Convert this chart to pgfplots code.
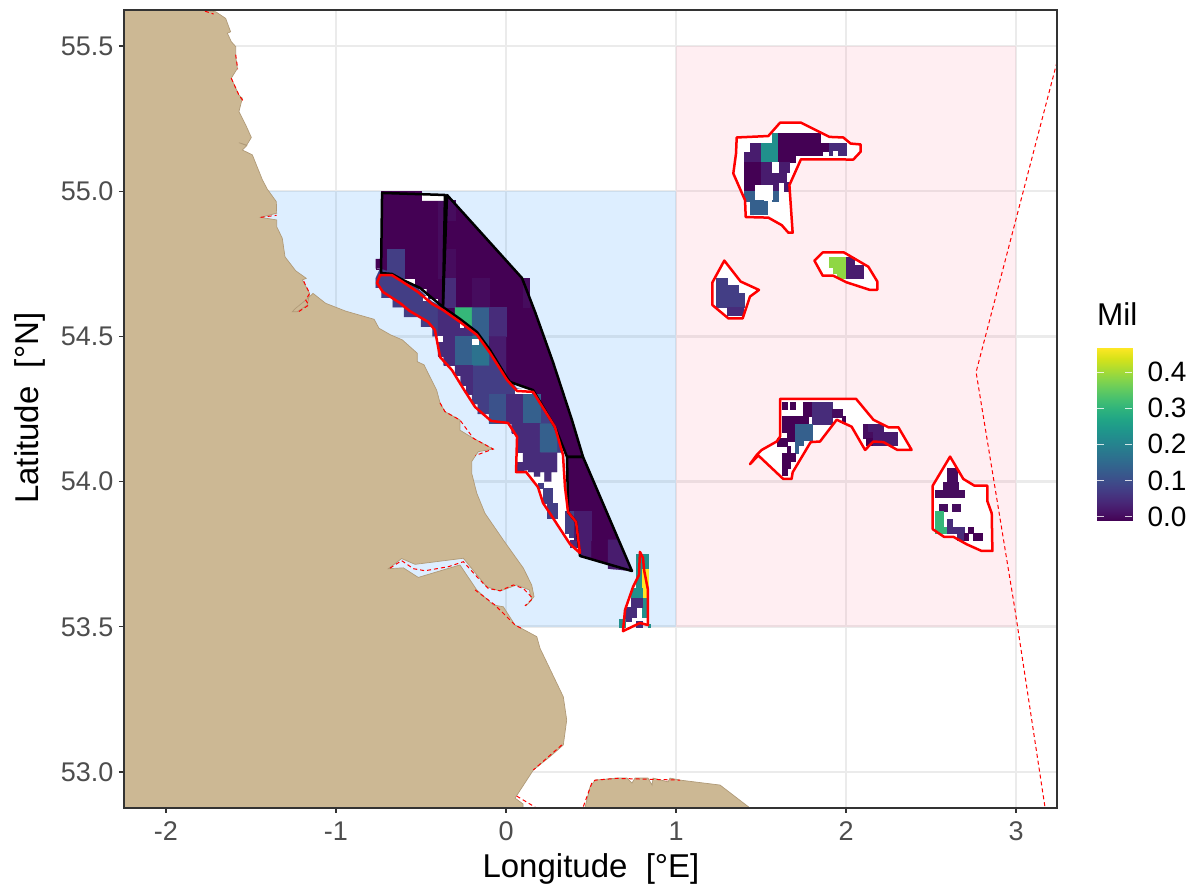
\documentclass[border=0pt]{standalone}
\usepackage{pgfplots}
\usepackage{fontspec}
\setmainfont{Liberation Sans}
\pgfplotsset{compat=1.18}
\definecolor{land}{HTML}{CCB894}
\definecolor{landb}{HTML}{B09A78}
\definecolor{bluer}{HTML}{1E90FF}
\definecolor{pinkr}{HTML}{FF5A82}
\definecolor{gridc}{HTML}{EBEBEB}
\definecolor{frame}{HTML}{333333}
\definecolor{tickl}{HTML}{4D4D4D}
\definecolor{dA}{HTML}{440154}
\definecolor{dB}{HTML}{460C5E}
\definecolor{dC}{HTML}{481C6E}
\definecolor{dD}{HTML}{472C7A}
\definecolor{dE}{HTML}{433E85}
\definecolor{dF}{HTML}{3B528B}
\definecolor{dG}{HTML}{35608D}
\definecolor{dH}{HTML}{2C728E}
\definecolor{teal}{HTML}{21908C}
\definecolor{green}{HTML}{35B779}
\definecolor{lime}{HTML}{8FD744}
\definecolor{yel}{HTML}{FDE725}
\newcommand{\Poly}[2]{\addplot[fill=#1,draw=#1,line width=0.15pt,forget plot] coordinates {#2} --cycle;}
\newcommand{\Cell}[5]{\addplot[fill=#1,draw=#1,line width=0.15pt,forget plot] coordinates {(#2,#4)(#3,#4)(#3,#5)(#2,#5)} --cycle;}
\newcommand{\Outl}[2]{\addplot[draw=#1,line width=2.5pt,line join=round,forget plot] coordinates {#2} --cycle;}
\newcommand{\Wht}[1]{\addplot[fill=white,draw=none,forget plot] coordinates {#1} --cycle;}
\newcommand{\Dash}[1]{\addplot[draw=red,line width=1pt,dash pattern=on 4pt off 3pt,forget plot] coordinates {#1};}
\def\redA{(-0.741,54.711)(-0.671,54.711)(-0.606,54.687)(-0.518,54.653)(-0.435,54.612)(-0.371,54.591)(-0.271,54.55)(-0.171,54.505)(-0.094,54.443)(0.006,54.35)(0.065,54.312)(0.159,54.309)(0.288,54.188)(0.335,54.092)(0.347,53.981)(0.365,53.895)(0.412,53.861)(0.435,53.754)(0.376,53.785)(0.276,53.875)(0.218,53.926)(0.188,53.981)(0.118,54.033)(0.059,54.033)(0.065,54.154)(0.012,54.202)(-0.088,54.209)(-0.182,54.257)(-0.253,54.322)(-0.318,54.384)(-0.388,54.429)(-0.418,54.522)(-0.459,54.55)(-0.565,54.587)(-0.624,54.615)(-0.724,54.653)(-0.759,54.684)}
\def\redB{(0.788,53.758)(0.806,53.737)(0.812,53.696)(0.835,53.627)(0.835,53.506)(0.788,53.513)(0.688,53.485)(0.7,53.558)(0.747,53.637)(0.782,53.678)}
\def\redN{(1.357,55.185)(1.543,55.19)(1.612,55.236)(1.735,55.236)(1.902,55.187)(1.984,55.185)(2.027,55.164)(2.086,55.161)(2.086,55.136)(2.043,55.109)(1.735,55.11)(1.667,55.021)(1.686,54.857)(1.661,54.857)(1.622,54.883)(1.543,54.909)(1.41,54.911)(1.406,54.969)(1.337,55.061)(1.353,55.13)}
\def\redM{(1.814,54.761)(1.863,54.789)(1.988,54.789)(2.131,54.74)(2.184,54.689)(2.184,54.66)(2.141,54.66)(2.004,54.686)(1.925,54.709)(1.863,54.709)}
\def\redW{(1.284,54.761)(1.38,54.689)(1.488,54.66)(1.435,54.637)(1.392,54.562)(1.308,54.562)(1.214,54.608)(1.214,54.686)}
\def\redS{(1.612,54.285)(2.059,54.285)(2.161,54.213)(2.249,54.187)(2.308,54.187)(2.386,54.109)(2.302,54.109)(2.22,54.136)(2.161,54.138)(2.112,54.109)(2.033,54.189)(1.945,54.213)(1.847,54.138)(1.792,54.136)(1.686,54.032)(1.68,54.009)(1.631,54.009)(1.484,54.09)(1.435,54.06)(1.475,54.092)(1.504,54.109)(1.592,54.138)(1.612,54.155)}
\def\redE{(2.612,54.086)(2.69,54.009)(2.755,53.986)(2.831,53.986)(2.831,53.933)(2.857,53.891)(2.861,53.761)(2.798,53.761)(2.71,53.784)(2.631,53.81)(2.576,53.81)(2.51,53.836)(2.51,53.986)}
\def\blkA{(-0.729,54.994)(-0.359,54.987)(-0.371,54.601)(-0.506,54.667)(-0.606,54.694)(-0.671,54.715)(-0.735,54.718)}
\def\blkB{(-0.347,54.987)(0.094,54.701)(0.171,54.584)(0.276,54.412)(0.388,54.212)(0.453,54.085)(0.359,54.085)(0.288,54.188)(0.159,54.315)(0.024,54.343)(0.006,54.357)(-0.094,54.453)(-0.171,54.515)(-0.271,54.56)(-0.371,54.601)}
\def\blkC{(0.359,54.085)(0.453,54.085)(0.741,53.692)(0.435,53.744)(0.412,53.861)(0.365,53.895)}
\begin{document}
\begin{tikzpicture}[x=1pt,y=1pt]
\useasboundingbox (-124pt,-85pt) rectangle (1072pt,808pt);
\begin{axis}[
  at={(0pt,0pt)},anchor=south west,
  scale only axis,width=933pt,height=798pt,
  xmin=-2.247,xmax=3.241,ymin=52.876,ymax=55.624,
  xtick={-2,-1,0,1,2,3},ytick={53,53.5,54,54.5,55,55.5},
  xticklabels={-2,-1,0,1,2,3},
  yticklabels={53.0,53.5,54.0,54.5,55.0,55.5},
  tick align=outside,xtick pos=bottom,ytick pos=left,
  major tick length=5pt,
  tick style={draw=frame,line width=1.2pt},
  axis line style={draw=frame,line width=1.2pt},
  grid=major,
  major grid style={draw=gridc,line width=2.6pt},
  tick label style={font=\fontsize{27}{30}\selectfont,text=tickl},
  x tick label style={yshift=-5pt},
  y tick label style={xshift=-2pt},
  xlabel={Longitude\ \ [°E]},ylabel={Latitude\ \ [°N]},
  label style={font=\fontsize{33}{36}\selectfont,text=black},
  xlabel style={at={(axis description cs:0.5005,-0.0764)},anchor=center},
  ylabel style={at={(axis description cs:-0.1008,0.501)},anchor=center},
  clip mode=individual,
]
% zones
\addplot[fill=bluer,fill opacity=0.15,draw=none,forget plot] coordinates {(-2,53.5)(1,53.5)(1,55)(-2,55)} --cycle;
\addplot[fill=pinkr,fill opacity=0.10,draw=none,forget plot] coordinates {(1,53.5)(3,53.5)(3,55.5)(1,55.5)} --cycle;
% land
\addplot[fill=land,draw=landb,line width=0.7pt,forget plot] coordinates {(-1.775,55.7)(-1.771,55.622)(-1.708,55.618)(-1.649,55.595)(-1.62,55.549)(-1.639,55.544)(-1.616,55.515)(-1.59,55.498)(-1.59,55.463)(-1.58,55.423)(-1.616,55.389)(-1.571,55.331)(-1.551,55.32)(-1.571,55.274)(-1.531,55.228)(-1.498,55.185)(-1.525,55.159)(-1.571,55.167)(-1.525,55.157)(-1.551,55.142)(-1.492,55.125)(-1.433,55.039)(-1.404,55.007)(-1.351,54.964)(-1.349,54.924)(-1.443,54.91)(-1.349,54.901)(-1.349,54.878)(-1.316,54.838)(-1.3,54.774)(-1.237,54.726)(-1.175,54.7)(-1.198,54.694)(-1.155,54.648)(-1.169,54.608)(-1.228,54.585)(-1.257,54.585)(-1.237,54.597)(-1.178,54.625)(-1.135,54.648)(-1.061,54.614)(-0.943,54.587)(-0.776,54.559)(-0.747,54.528)(-0.678,54.505)(-0.61,54.488)(-0.522,54.442)(-0.522,54.413)(-0.482,54.402)(-0.459,54.374)(-0.408,54.315)(-0.388,54.271)(-0.359,54.241)(-0.271,54.212)(-0.271,54.177)(-0.192,54.149)(-0.075,54.112)(-0.163,54.103)(-0.202,54.069)(-0.202,54.029)(-0.172,53.96)(-0.124,53.891)(-0.016,53.799)(0.102,53.702)(0.151,53.644)(0.165,53.604)(0.118,53.572)(0.151,53.592)(0.137,53.627)(0.063,53.644)(-0.035,53.623)(-0.114,53.638)(-0.251,53.736)(-0.535,53.715)(-0.614,53.735)(-0.692,53.7)(-0.604,53.703)(-0.516,53.67)(-0.271,53.713)(-0.172,53.627)(-0.075,53.575)(-0.016,53.569)(0.053,53.506)(0.102,53.491)(0.181,53.466)(0.2,53.426)(0.337,53.259)(0.357,53.179)(0.337,53.093)(0.259,53.053)(0.161,53.007)(0.053,52.91)(0.1,52.89)(0.1,52.85)(-2.4,52.8)(-2.4,55.7)} --cycle;
\addplot[fill=land,draw=landb,line width=0.7pt,forget plot] coordinates {(0.453,52.85)(0.494,52.948)(0.524,52.972)(0.653,52.979)(0.712,52.979)(0.741,52.962)(0.759,52.979)(0.835,52.979)(0.859,52.955)(0.865,52.979)(0.953,52.966)(0.965,52.979)(1.024,52.972)(1.259,52.955)(1.435,52.876)(1.47,52.85)} --cycle;
% dashed coast and boundary
\Dash{(-0.682,53.702)(-0.614,53.728)(-0.545,53.7)(-0.476,53.693)(-0.339,53.707)(-0.251,53.724)(-0.163,53.667)(-0.104,53.632)(-0.035,53.624)(0.043,53.644)(0.102,53.632)(0.157,53.598)(0.112,53.572)}
\Dash{(-0.182,53.627)(-0.065,53.575)(0.053,53.506)(0.102,53.491)}
\Dash{(0.328,53.093)(0.161,53.007)}
\Dash{(0.063,52.917)(0.171,52.879)}
\Dash{(0.455,52.881)(0.504,52.961)(0.524,52.972)(0.651,52.978)(1.024,52.972)}
\Dash{(-1.59,55.47)(-1.578,55.42)}
\Dash{(-1.616,55.389)(-1.571,55.331)(-1.545,55.31)}
\Dash{(-1.19,54.69)(-1.155,54.648)(-1.178,54.625)(-1.16,54.608)(-1.22,54.585)}
\Dash{(-1.771,55.62)(-1.72,55.61)}
\Dash{(-1.443,54.91)(-1.349,54.917)}
\Dash{(-0.388,54.271)(-0.359,54.241)(-0.271,54.212)(-0.192,54.149)(-0.075,54.112)(-0.18,54.09)}
\Dash{(3.241,55.445)(2.765,54.377)(2.994,53.558)(3.171,52.876)}
% white interiors
\Wht{\redA}\Wht{\redB}\Wht{\redN}\Wht{\redM}\Wht{\redW}\Wht{\redS}\Wht{\redE}\Wht{\blkA}\Wht{\blkB}\Wht{\blkC}
% west box
\Poly{dA}{(-0.733,55)(-0.5,55)(-0.5,54.967)(-0.367,54.967)(-0.367,54.6)(-0.4,54.6)(-0.4,54.633)(-0.467,54.633)(-0.467,54.667)(-0.533,54.667)(-0.533,54.7)(-0.633,54.7)(-0.633,54.72)(-0.733,54.72)(-0.733,54.733)(-0.767,54.733)(-0.767,54.767)(-0.733,54.767)}
\Cell{dB}{-0.4}{-0.367}{54.967}{54.7}
\Cell{dE}{-0.7}{-0.6}{54.8}{54.7}
% east box
\Poly{dA}{\blkB}
\Poly{dA}{\blkC}
\Cell{dB}{-0.347}{-0.3}{54.97}{54.9}
\Cell{dB}{-0.367}{-0.3}{54.8}{54.7}
\Cell{dD}{-0.367}{-0.3}{54.7}{54.6}
\Cell{dB}{-0.2}{-0.1}{54.7}{54.6}
\Cell{dB}{0.1}{0.133}{54.7}{54.6}
\Poly{green}{(-0.3,54.6)(-0.2,54.6)(-0.2,54.525)(-0.271,54.56)(-0.3,54.572)}
\Poly{dG}{(-0.2,54.6)(-0.1,54.6)(-0.1,54.46)(-0.171,54.515)(-0.2,54.525)}
\Cell{dD}{-0.1}{0}{54.6}{54.5}
\Poly{dC}{(-0.1,54.5)(0,54.5)(0,54.365)(-0.094,54.453)}
% coastal strip
\Poly{dE}{(-0.767,54.7)(-0.741,54.733)(-0.671,54.72)(-0.606,54.697)(-0.518,54.665)(-0.435,54.62)(-0.371,54.6)(-0.271,54.56)(-0.171,54.515)(-0.094,54.453)(0.006,54.36)(0.065,54.32)(0.159,54.315)(0.288,54.19)(0.335,54.1)(0.067,54.1)(0.067,54.167)(0.033,54.167)(0.033,54.2)(-0.1,54.2)(-0.1,54.233)(-0.167,54.233)(-0.167,54.267)(-0.2,54.267)(-0.2,54.3)(-0.233,54.3)(-0.233,54.333)(-0.267,54.333)(-0.267,54.367)(-0.3,54.367)(-0.3,54.4)(-0.367,54.4)(-0.367,54.433)(-0.4,54.433)(-0.4,54.5)(-0.433,54.5)(-0.433,54.533)(-0.5,54.533)(-0.5,54.567)(-0.6,54.567)(-0.6,54.6)(-0.667,54.6)(-0.667,54.633)(-0.733,54.633)(-0.733,54.667)(-0.767,54.667)}
\Poly{dD}{(-0.4,54.5)(-0.3,54.5)(-0.3,54.57)(-0.371,54.6)(-0.4,54.61)}
\Poly{dD}{(-0.3,54.5)(-0.2,54.5)(-0.2,54.525)(-0.271,54.56)(-0.3,54.572)}
\Poly{dD}{(-0.4,54.5)(-0.3,54.5)(-0.3,54.4)(-0.367,54.4)(-0.367,54.433)(-0.4,54.433)}
\Cell{dG}{-0.3}{-0.2}{54.5}{54.4}
\Poly{dH}{(-0.2,54.5)(-0.171,54.505)(-0.1,54.458)(-0.1,54.4)(-0.2,54.4)}
\Poly{dD}{(-0.3,54.4)(-0.2,54.4)(-0.2,54.3)(-0.233,54.3)(-0.233,54.333)(-0.267,54.333)(-0.267,54.367)(-0.3,54.367)}
\Cell{dF}{-0.1}{0}{54.3}{54.2}
\Cell{dD}{0}{0.1}{54.3}{54.2}
\Cell{dG}{0.1}{0.2}{54.3}{54.2}
\Poly{dD}{(0.033,54.2)(0.1,54.2)(0.1,54.1)(0.067,54.1)(0.067,54.167)(0.033,54.167)}
\Cell{dD}{0.1}{0.2}{54.2}{54.1}
\Poly{dG}{(0.2,54.2)(0.277,54.2)(0.3,54.16)(0.3,54.1)(0.2,54.1)}
\Poly{dD}{(0.065,54.067)(0.1,54.067)(0.1,54.1)(0.3,54.1)(0.3,54.033)(0.267,54.033)(0.267,54)(0.225,54)(0.225,54.033)(0.2,54.033)(0.2,54.017)(0.165,54.017)(0.165,54.033)(0.13,54.033)(0.13,54.04)(0.065,54.033)}
\Cell{dE}{0.19}{0.22}{53.994}{53.977}
\Cell{dE}{0.216}{0.269}{53.977}{53.925}
\Cell{dE}{0.239}{0.298}{53.925}{53.874}
\Cell{dE}{0.347}{0.4}{53.9}{53.822}
\Cell{dE}{0.37}{0.4}{53.822}{53.81}
\Cell{dD}{0.376}{0.435}{53.799}{53.776}
% south east box cells
\Cell{dC}{0.4}{0.5}{53.9}{53.8}
\Poly{dC}{(0.435,53.8)(0.5,53.8)(0.5,53.74)(0.435,53.744)}
\Poly{dC}{(0.6,53.8)(0.662,53.8)(0.7,53.748)(0.741,53.692)(0.6,53.7)}
% white specks
\Cell{white}{-0.4}{-0.375}{54.5}{54.483}
\Cell{white}{-0.2}{-0.165}{54.49}{54.475}
\Cell{white}{-0.27}{-0.25}{54.545}{54.533}
\Cell{white}{0.055}{0.145}{54.317}{54.305}
\Cell{white}{-0.49}{-0.465}{54.64}{54.625}
% small polygon cells
\Cell{teal}{0.767}{0.833}{53.75}{53.7}
\Cell{teal}{0.767}{0.8}{53.7}{53.633}
\Cell{yel}{0.8}{0.833}{53.7}{53.6}
\Cell{teal}{0.733}{0.8}{53.633}{53.6}
\Cell{teal}{0.8}{0.833}{53.6}{53.533}
\Cell{dD}{0.733}{0.8}{53.6}{53.567}
\Cell{dD}{0.7}{0.767}{53.567}{53.533}
\Cell{dD}{0.7}{0.733}{53.533}{53.52}
\Cell{dD}{0.767}{0.8}{53.52}{53.5}
\Cell{teal}{0.667}{0.7}{53.525}{53.5}
\Cell{teal}{0.833}{0.85}{53.51}{53.5}
% north bank
\Cell{dC}{1.433}{1.5}{55.167}{55.1}
\Cell{dC}{1.4}{1.433}{55.133}{55.1}
\Cell{teal}{1.567}{1.6}{55.2}{55.167}
\Cell{teal}{1.5}{1.6}{55.167}{55.1}
\Cell{dA}{1.6}{1.85}{55.2}{55.167}
\Cell{dA}{1.6}{1.9}{55.167}{55.133}
\Cell{dA}{1.6}{1.867}{55.133}{55.125}
\Cell{dA}{1.6}{1.7}{55.125}{55.1}
\Cell{dD}{1.9}{2}{55.167}{55.125}
\Cell{white}{1.925}{1.945}{55.138}{55.125}
\Cell{white}{1.867}{1.895}{55.133}{55.125}
\Cell{dA}{1.4}{1.5}{55.1}{55}
\Cell{dC}{1.5}{1.6}{55.1}{55}
\Cell{dC}{1.6}{1.667}{55.1}{55.067}
\Cell{dC}{1.6}{1.65}{55.067}{55.033}
\Cell{dC}{1.633}{1.667}{55.033}{55}
\Cell{white}{1.567}{1.6}{55.1}{55.067}
\Cell{dG}{1.4}{1.513}{55}{54.967}
\Cell{dG}{1.433}{1.533}{54.967}{54.92}
\Cell{dG}{1.567}{1.6}{55}{54.967}
\Cell{white}{1.467}{1.567}{55.022}{54.972}
% west bank
\Cell{dE}{1.233}{1.3}{54.7}{54.6}
\Cell{dE}{1.3}{1.367}{54.675}{54.6}
\Cell{dE}{1.367}{1.4}{54.648}{54.6}
\Cell{dD}{1.3}{1.395}{54.6}{54.575}
% middle bank
\Cell{lime}{1.9}{2}{54.773}{54.74}
\Cell{lime}{1.925}{2}{54.74}{54.717}
\Cell{lime}{1.95}{2}{54.717}{54.7}
\Cell{dC}{2}{2.05}{54.773}{54.7}
\Cell{dC}{2.05}{2.1}{54.746}{54.7}
% south bank
\Cell{dA}{1.622}{1.651}{54.274}{54.249}
\Cell{dA}{1.671}{1.7}{54.274}{54.249}
\Cell{dA}{1.749}{1.798}{54.274}{54.224}
\Cell{dD}{1.798}{1.92}{54.274}{54.198}
\Cell{dB}{1.92}{1.975}{54.251}{54.221}
\Cell{dA}{1.975}{1.994}{54.224}{54.201}
\Cell{dA}{1.625}{1.778}{54.224}{54.172}
\Cell{dA}{1.651}{1.7}{54.172}{54.138}
\Cell{dA}{1.596}{1.651}{54.149}{54.124}
\Cell{dG}{1.7}{1.798}{54.198}{54.144}
\Cell{dG}{1.7}{1.749}{54.144}{54.126}
\Cell{dG}{1.7}{1.72}{54.126}{54.098}
\Cell{dA}{1.651}{1.671}{54.124}{54.098}
\Cell{dA}{1.625}{1.7}{54.098}{54.069}
\Cell{dA}{1.625}{1.671}{54.069}{54.046}
\Cell{dA}{1.625}{1.651}{54.046}{54.023}
\Cell{dB}{2.098}{2.131}{54.198}{54.149}
\Cell{dC}{2.131}{2.22}{54.198}{54.172}
\Cell{dC}{2.151}{2.298}{54.172}{54.126}
\Cell{dB}{2.131}{2.151}{54.172}{54.149}
\Cell{dA}{2.12}{2.151}{54.149}{54.126}
% south east bank
\Cell{dB}{2.596}{2.651}{54.048}{53.998}
\Cell{dB}{2.573}{2.661}{53.998}{53.971}
\Cell{dB}{2.524}{2.694}{53.971}{53.948}
\Cell{dB}{2.547}{2.596}{53.922}{53.897}
\Cell{dB}{2.622}{2.671}{53.922}{53.897}
\Cell{green}{2.524}{2.573}{53.897}{53.822}
\Cell{green}{2.573}{2.596}{53.845}{53.822}
\Cell{dD}{2.596}{2.622}{53.871}{53.845}
\Cell{dD}{2.596}{2.694}{53.845}{53.822}
\Cell{dD}{2.651}{2.694}{53.822}{53.799}
\Cell{dA}{2.694}{2.72}{53.822}{53.799}
\Cell{dA}{2.72}{2.745}{53.845}{53.822}
\Cell{dA}{2.745}{2.798}{53.822}{53.799}
% outlines
\Outl{black}{\blkA}
\Outl{black}{\blkB}
\Outl{black}{\blkC}
\Outl{red}{\redA}
\Outl{red}{\redB}
\Outl{red}{\redN}
\Outl{red}{\redM}
\Outl{red}{\redW}
\Outl{red}{\redS}
\Outl{red}{\redE}
\draw[draw=frame,line width=1.2pt] (rel axis cs:0,0) rectangle (rel axis cs:1,1);
\end{axis}
\begin{axis}[
  at={(973pt,287.3pt)},anchor=south west,
  scale only axis,width=35pt,height=173pt,
  xmin=0,xmax=1,ymin=-0.011,ymax=0.467,
  colormap/viridis,
  point meta min=-0.011,point meta max=0.467,
  xtick=\empty,
  ytick={0,0.1,0.2,0.3,0.4},
  yticklabels={0.0,0.1,0.2,0.3,0.4},
  axis on top,
  ytick pos=both,yticklabel pos=right,
  tick align=inside,major tick length=7pt,
  tick style={draw=white,line width=0.6pt,opacity=0.8},
  axis line style={draw=none},
  tick label style={font=\fontsize{28}{30}\selectfont,text=black},
  y tick label style={xshift=12pt},
  clip=false,
]
\addplot[patch,patch type=rectangle,shader=interp,point meta=y,forget plot] coordinates {(0,-0.011)(1,-0.011)(1,0.467)(0,0.467)};
\node[anchor=west,font=\fontsize{31.5}{34}\selectfont,inner sep=0pt] at (axis cs:0,0.559) {Mil};
\end{axis}
\end{tikzpicture}
\end{document}
